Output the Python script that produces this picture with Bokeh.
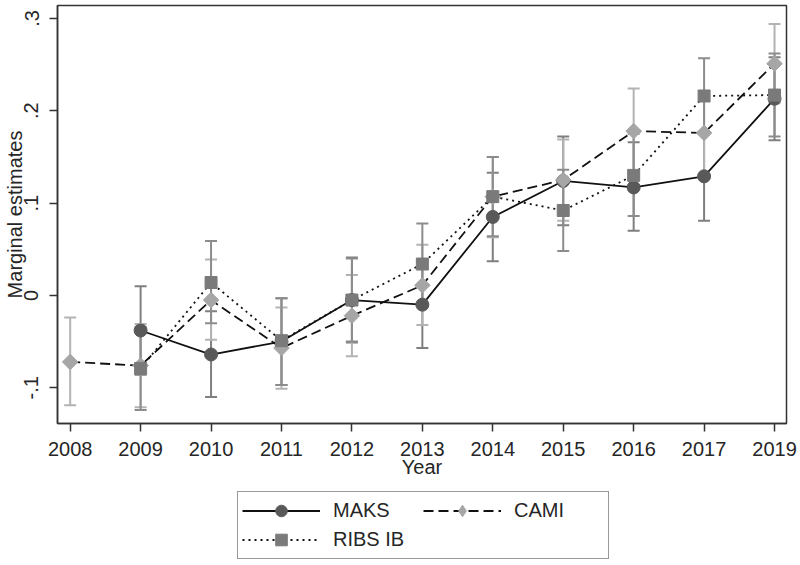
import math
from bokeh.plotting import figure
from bokeh.layouts import column
from bokeh.models import (Range1d, FixedTicker, Legend, LegendItem, Whisker,
                          ColumnDataSource, TeeHead)
from bokeh.embed import file_html
from bokeh.resources import INLINE

years = ["2008", "2009", "2010", "2011", "2012", "2013", "2014", "2015", "2016", "2017", "2019"]

maks = [None, -0.038, -0.064, -0.050, -0.005, -0.010, 0.085, 0.124, 0.117, 0.129, 0.213]
maks_lo = [None, -0.086, -0.110, -0.097, -0.051, -0.057, 0.037, 0.076, 0.070, 0.081, 0.168]
maks_hi = [None, 0.010, -0.017, -0.003, 0.041, 0.037, 0.133, 0.172, 0.166, 0.177, 0.258]

cami = [-0.072, -0.076, -0.005, -0.057, -0.022, 0.011, 0.107, 0.125, 0.178, 0.176, 0.251]
cami_lo = [-0.119, -0.121, -0.048, -0.101, -0.066, -0.032, 0.063, 0.081, 0.132, 0.131, 0.208]
cami_hi = [-0.024, -0.031, 0.039, -0.013, 0.022, 0.055, 0.150, 0.169, 0.224, 0.221, 0.294]

ribs = [None, -0.079, 0.014, -0.049, -0.005, 0.034, 0.107, 0.092, 0.130, 0.216, 0.217]
ribs_lo = [None, -0.124, -0.030, -0.097, -0.050, -0.009, 0.064, 0.048, 0.086, 0.175, 0.172]
ribs_hi = [None, -0.034, 0.059, -0.003, 0.040, 0.078, 0.150, 0.136, 0.175, 0.257, 0.262]

y_ticks = [-0.1, 0.0, 0.1, 0.2, 0.3]
y_tick_labels = ["-.1", "0", ".1", ".2", ".3"]

FONT = "Liberation Sans"
TXT = "#262626"


def make_source(vals, lo, hi):
    xs, ys, los, his = [], [], [], []
    for i, (v, l, h) in enumerate(zip(vals, lo, hi)):
        if v is None:
            continue
        xs.append(i); ys.append(v); los.append(l); his.append(h)
    return ColumnDataSource(dict(x=xs, y=ys, lo=los, hi=his))


p = figure(width=800, height=490, output_backend="svg", toolbar_location=None,
           x_range=Range1d(-0.18, 10.17), y_range=Range1d(-0.1387, 0.314),
           min_border_left=10, min_border_right=14, min_border_top=5, min_border_bottom=67)
p.grid.visible = False
p.outline_line_color = "#333333"
p.outline_line_width = 1.5
p.background_fill_color = "white"
p.border_fill_color = "white"

xa = p.xaxis[0]
xa.ticker = FixedTicker(ticks=list(range(len(years))))
xa.major_label_overrides = {i: y for i, y in enumerate(years)}
xa.axis_label = "Year"
ya = p.yaxis[0]
ya.ticker = FixedTicker(ticks=y_ticks)
ya.major_label_overrides = {t: s for t, s in zip(y_ticks, y_tick_labels)}
ya.axis_label = "Marginal estimates"
ya.major_label_orientation = "vertical"
for ax in (xa, ya):
    ax.axis_line_color = "#333333"
    ax.axis_line_width = 1.5
    ax.major_tick_line_color = "#333333"
    ax.major_tick_line_width = 1.5
    ax.major_tick_out = 8
    ax.major_tick_in = 0
    ax.minor_tick_line_color = None
    ax.major_label_text_font = FONT
    ax.major_label_text_font_size = "20px"
    ax.major_label_text_color = TXT
    ax.axis_label_text_font = FONT
    ax.axis_label_text_font_size = "20px"
    ax.axis_label_text_font_style = "normal"
    ax.axis_label_text_color = TXT
xa.major_label_standoff = 10
xa.axis_label_standoff = -3
ya.major_label_standoff = 11
ya.axis_label_standoff = -4

series = [
    ("MAKS", maks, maks_lo, maks_hi, "circle", "circle", "#595959", 13, 0.0, "solid", "#7f7f7f"),
    ("CAMI", cami, cami_lo, cami_hi, "square", "diamond", "#a6a6a6", 11, math.pi / 4, "10 5", "#b3b3b3"),
    ("RIBS IB", ribs, ribs_lo, ribs_hi, "square", "square", "#7a7a7a", 12, 0.0, "2 4", "#8c8c8c"),
]

# strip below the chart that carries the legend
p2 = figure(width=800, height=75, output_backend="svg", toolbar_location=None,
            x_range=Range1d(0, 1), y_range=Range1d(0, 1),
            x_axis_location=None, y_axis_location=None,
            min_border_left=0, min_border_right=0, min_border_top=0, min_border_bottom=0)
p2.grid.visible = False
p2.outline_line_color = None
p2.background_fill_color = "white"
p2.border_fill_color = "white"

items = []
for name, vals, lo, hi, marker, lmarker, mcol, msize, ang, dash, ccol in series:
    src = make_source(vals, lo, hi)
    w = Whisker(base="x", upper="hi", lower="lo", source=src,
                line_color=ccol, line_width=2,
                upper_head=TeeHead(size=12, line_color=ccol, line_width=2),
                lower_head=TeeHead(size=12, line_color=ccol, line_width=2))
    p.add_layout(w)
    p.line("x", "y", source=src, line_color="#111111", line_width=1.8, line_dash=dash)
    p.scatter("x", "y", source=src, marker=marker, size=msize, angle=ang,
              fill_color=mcol, line_color=mcol)
    # legend proxies (kept outside the visible strip range)
    ln2 = p2.line([-5, -4], [-5, -4], line_color="#111111", line_width=1.8, line_dash=dash)
    sc2 = p2.scatter([-5], [-5], marker=lmarker, size=msize,
                     fill_color=mcol, line_color=mcol)
    items.append(LegendItem(label=name, renderers=[ln2, sc2]))

legend = Legend(items=items, orientation="horizontal", ncols=2, location=(180, 6),
                glyph_width=78, glyph_height=29, label_standoff=13, label_width=90,
                spacing=0, padding=4, margin=0,
                label_text_font=FONT, label_text_font_size="20px", label_text_color=TXT,
                border_line_color="#333333", border_line_width=1.5,
                background_fill_color="white")
p2.add_layout(legend)

open("out.html", "w").write(file_html(column(p, p2), INLINE))
